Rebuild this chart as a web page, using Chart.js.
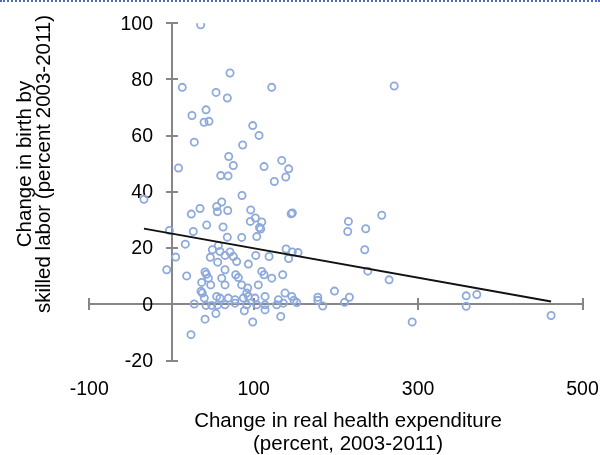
<!DOCTYPE html>
<html>
<head>
<meta charset="utf-8">
<title>Health expenditure vs skilled birth attendance</title>
<script src="https://cdn.jsdelivr.net/npm/chart.js@4.4.1/dist/chart.umd.min.js"></script>
<style>
    html, body { margin: 0; padding: 0; background: #fff; }
    #wrap { position: relative; width: 600px; height: 455px; }
    #sel { position: absolute; left: 0; top: 0; width: 600px; border-top: 2px dotted #4a6cc8; }
</style>
</head>
<body>
<div id="wrap">
    <canvas id="scatterChart" width="600" height="455"></canvas>
    <div id="sel"></div>
</div>
<script>
// Change in real health expenditure (percent, 2003-2011)
const healthExpenditure = [
    35.5, 71.2, 13.1, 121.9, 270.9, 54.2, 67.9, 42.0, 24.9, 39.6,
    45.6, 98.8, 106.5, 27.7, 86.6, 69.6, 134.1, 8.5, 75.2, 112.6,
    142.6, 139.0, 59.9, 68.8, 125.1,
    -33.5, 85.8, 34.7, 24.1, 61.1, 55.0, 55.8, 68.4, 96.4, 102.0,
    109.8, 95.9, 107.0, 108.5, 145.5, 147.0, 62.7, 42.8, 26.5, -2.5,
    215.2, 214.4, 236.3, 255.8,
    103.7, 85.4, 67.9, 139.4, 147.0, 154.0, 142.5, 16.8, 5.1, -5.8,
    18.5, 49.7, 47.2, 57.0, 56.2, 40.8, 42.4, 59.0, 71.2, 75.2,
    65.1, 79.3, 65.1, 93.5, 102.5, 118.7, 109.8, 112.6, 122.0, 135.3,
    78.1, 81.3, 61.1, 235.1, 238.8, 264.7,
    44.8, 36.7, 47.7, 35.9, 37.5, 39.9, 55.0, 27.7, 42.0, 48.9,
    56.0, 54.0, 40.8, 23.7, 65.1, 85.4, 92.7, 91.5, 93.5, 105.6,
    59.0, 69.1, 77.3, 87.4, 101.6, 113.8, 130.0, 138.1, 146.3, 149.0,
    152.4, 65.1, 77.3, 91.5, 103.7, 113.8, 128.0, 136.0, 88.6, 113.8,
    132.9, 98.8,
    198.3, 178.0, 178.0, 184.0, 210.5, 216.4, 292.8, 358.5, 358.5, 371.4,
    461.8
];

// Change in birth by skilled labor (percent 2003-2011)
const skilledBirths = [
    99.5, 82.3, 77.2, 77.2, 77.7, 75.4, 73.4, 69.2, 67.2, 64.8,
    65.1, 63.6, 60.1, 57.7, 56.7, 52.6, 51.2, 48.5, 49.4, 49.0,
    48.2, 45.3, 45.8, 45.7, 43.7,
    37.4, 38.7, 34.1, 32.1, 36.4, 34.8, 32.9, 33.4, 33.6, 30.7,
    29.3, 29.5, 27.3, 26.8, 32.2, 32.5, 27.5, 28.2, 25.9, 26.3,
    29.5, 25.9, 26.9, 31.7,
    24.1, 23.8, 23.9, 19.7, 18.6, 18.4, 16.3, 21.4, 16.8, 12.3,
    10.1, 19.4, 16.7, 20.9, 15.0, 11.5, 10.7, 18.8, 18.6, 17.0,
    17.4, 15.2, 12.3, 14.3, 17.4, 17.0, 11.7, 10.5, 9.3, 10.5,
    10.5, 9.5, 9.3, 19.4, 11.8, 8.7,
    9.3, 7.8, 6.9, 4.6, 4.0, 2.2, 2.8, 0.1, -0.4, -0.4,
    -0.3, -3.3, -5.3, -10.8, 6.9, 6.9, 5.8, 4.0, 2.8, 6.9,
    2.2, 2.2, 1.6, 2.2, 2.2, 2.8, 1.6, 4.0, 2.8, 1.4,
    0.6, -0.2, 0.4, -0.2, -0.2, -0.2, -0.2, 0.4, -2.3, -2.0,
    -4.3, -6.3,
    4.7, 2.5, 1.4, -0.6, 0.7, 2.5, -6.3, 3.0, -0.7, 3.5,
    -4.0
];

// Linear trend line at its two ends
const trendX = [-33.5, 461.8];
const trendY = [26.9, 1.0];

const xTickValues = [-100, 100, 300, 500];
const xTitle = ["Change in real health expenditure", "(percent, 2003-2011)"];
const yTitle = ["Change in birth by", "skilled labor (percent 2003-2011)"];

const axisColor = "#868686";
const fontFamily = '"Liberation Sans", Arial, sans-serif';

Chart.defaults.font.family = fontFamily;
Chart.defaults.color = "#000";

// crossing tick marks, y tick labels (left of the axis at x = 0) and axis titles
const axisDecor = {
    id: "axisDecor",
    beforeDatasetsDraw(chart) {
        const { ctx, scales: { x, y } } = chart;
        const x0 = Math.round(x.getPixelForValue(0));
        const y0 = Math.round(y.getPixelForValue(0));
        ctx.save();
        ctx.strokeStyle = axisColor;
        ctx.lineWidth = 2;
        ctx.beginPath();
        y.ticks.forEach(t => {
            const py = Math.round(y.getPixelForValue(t.value));
            ctx.moveTo(x0 - 6, py);
            ctx.lineTo(x0 + 6, py);
        });
        x.ticks.forEach(t => {
            const px = Math.round(x.getPixelForValue(t.value));
            ctx.moveTo(px, y0 - 6);
            ctx.lineTo(px, y0 + 6);
        });
        ctx.stroke();

        ctx.fillStyle = "#000";
        ctx.font = "19.5px " + fontFamily;
        ctx.textAlign = "right";
        ctx.textBaseline = "middle";
        y.ticks.forEach(t => {
            ctx.fillText(String(t.value), x0 - 19, y.getPixelForValue(t.value) + 1);
        });
        ctx.restore();
    },
    afterDraw(chart) {
        const ctx = chart.ctx;
        ctx.save();
        ctx.fillStyle = "#000";
        ctx.font = "20.5px " + fontFamily;
        ctx.textAlign = "center";
        ctx.textBaseline = "middle";
        ctx.fillText(xTitle[0], 348, 421);
        ctx.fillText(xTitle[1], 348, 444);

        ctx.translate(25, 164);
        ctx.rotate(-Math.PI / 2);
        ctx.fillText(yTitle[0], 0, 0);
        ctx.fillText(yTitle[1], 0, 19);
        ctx.restore();
    }
};

const points = healthExpenditure.map((x, i) => ({ x: x, y: skilledBirths[i] }));
const trend = trendX.map((x, i) => ({ x: x, y: trendY[i] }));

new Chart(document.getElementById("scatterChart"), {
    type: "scatter",
    data: {
        datasets: [
            {
                label: "Linear trend",
                type: "line",
                data: trend,
                borderColor: "#111",
                borderWidth: 1.8,
                pointRadius: 0,
                fill: false
            },
            {
                label: "Countries",
                data: points,
                pointRadius: 3.6,
                pointBorderWidth: 1.8,
                pointBorderColor: "rgb(142, 169, 219)",
                pointBackgroundColor: "rgba(255, 255, 255, 0)"
            }
        ]
    },
    options: {
        responsive: false,
        animation: false,
        layout: {
            padding: { left: 89.3, right: 17.5, top: 23.3, bottom: 94.5 }
        },
        scales: {
            x: {
                type: "linear",
                position: { y: 0 },
                min: -100,
                max: 500,
                afterBuildTicks: scale => {
                    scale.ticks = xTickValues.map(v => ({ value: v }));
                },
                afterFit: scale => {
                    scale.paddingLeft = 0;
                    scale.paddingRight = 0;
                },
                grid: { display: false, drawTicks: true, tickLength: 73.5 },
                border: { display: true, color: axisColor, width: 2 },
                ticks: { padding: 0, font: { size: 19.5 }, color: "#000", maxRotation: 0 }
            },
            y: {
                type: "linear",
                position: { x: 0 },
                min: -20,
                max: 100,
                grid: { display: false, drawTicks: false },
                border: { display: true, color: axisColor, width: 2 },
                // labels are drawn by axisDecor so they can sit clear of the axis line
                ticks: { stepSize: 20, display: false }
            }
        },
        plugins: {
            legend: { display: false },
            tooltip: { enabled: false }
        }
    },
    plugins: [axisDecor]
});
</script>
</body>
</html>
